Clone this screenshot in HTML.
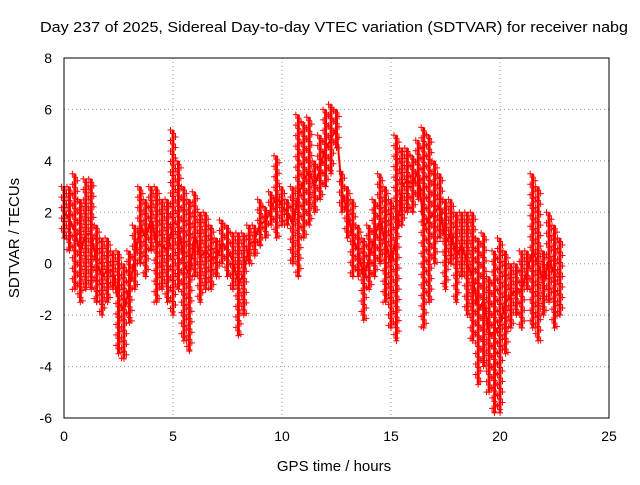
<!DOCTYPE html>
<html><head><meta charset="utf-8"><style>
body{margin:0;background:#fff}
svg text{font-family:"Liberation Sans",sans-serif;font-size:14px;fill:#000}
</style></head><body>
<svg id="c" width="640" height="480">
<text x="334" y="32" text-anchor="middle" textLength="588" lengthAdjust="spacingAndGlyphs" style="font-size:15px">Day 237 of 2025, Sidereal Day-to-day VTEC variation (SDTVAR) for receiver nabg</text>
<text x="334" y="471" text-anchor="middle" style="font-size:15px">GPS time / hours</text>
<text transform="translate(19,238) rotate(-90)" text-anchor="middle" style="font-size:15px">SDTVAR / TECUs</text>
<g id="grid"></g><g id="marks"></g>
<rect x="64" y="58" width="545" height="360" fill="none" stroke="#000"/>
</svg>
<script>
const xTicks=[0,5,10,15,20,25];
const yTicks=[-6,-4,-2,0,2,4,6,8];
const times=[0,0.25,0.5,0.75,1,1.25,1.5,1.75,2,2.25,2.5,2.75,3,3.25,3.5,3.75,4,4.25,4.5,4.75,5,5.25,5.5,5.75,6,6.25,6.5,6.75,7,7.25,7.5,7.75,8,8.25,8.5,8.75,9,9.25,9.5,9.75,10,10.25,10.5,10.75,11,11.25,11.5,11.75,12,12.25,12.5,12.75,13,13.25,13.5,13.75,14,14.25,14.5,14.75,15,15.25,15.5,15.75,16,16.25,16.5,16.75,17,17.25,17.5,17.75,18,18.25,18.5,18.75,19,19.25,19.5,19.75,20,20.25,20.5,20.75,21,21.25,21.5,21.75,22,22.25,22.5,22.75];
const lowVals=[1,0.5,-1,-1.5,-1,-1,-1.5,-2,-1.5,-1,-3.5,-3.7,-2.3,-1,0,-0.5,0.5,-1.5,-1,-1.5,-2,-1,-3,-3.4,-0.5,-1.5,-1,-1,-0.5,0,-0.5,-1,-2.8,-2,0,0.3,0.7,1,1.5,1,1.5,1.5,0,-0.5,1,1.5,2,2.5,3,3.5,4.5,2,1,-0.5,-0.5,-2.2,-1,-0.5,0,-1.5,-2.5,-3,1.5,2,2,2.5,-2.5,-1.5,0,1,-1,0,-1.5,-0.5,-2,-3,-4.7,-4,-5,-5.8,-5.8,-3.5,-2.5,-2,-2.5,-1,-2.5,-3,-2,-1.5,-2.5,-2];
const highVals=[3,3,3.5,2.5,3.3,3.3,1.5,1,1,0.5,0.5,0,0.5,1.5,3,2.5,3,3,2.5,2.5,5.2,4,3,2.5,2.8,2,2,1.5,1,1.7,1.5,1.2,1.2,1.2,1.5,1.5,2.5,2.2,2.8,4.2,3,2.5,3,5.8,5.5,5.7,4,5,6,6.2,6,3.6,3,2.5,1.5,1,1.5,2.5,3.5,3,2.5,5,4.5,4.5,4.2,4.8,5.3,5,4,3.5,2.5,2.5,2,2,2,2,1,1.2,-0.5,0.5,1,0.5,0,0,0.5,0.5,3.5,3,0.5,2,1.5,1];
const X=v=>64+v*545/25, Y=v=>418-(v+6)*360/14;
const ns="http://www.w3.org/2000/svg";
const g=document.getElementById('grid'), m=document.getElementById('marks');
function mk(p,tag,a){const e=document.createElementNS(ns,tag);for(const k in a)e.setAttribute(k,a[k]);p.appendChild(e);return e;}
xTicks.forEach(t=>{
 const l=mk(g,'line',{x1:X(t),x2:X(t),y1:58,y2:418,stroke:'#999','stroke-dasharray':'1,3'});
 
 
 const tx=mk(g,'text',{x:X(t),y:441,'text-anchor':'middle'});tx.textContent=t;
 
 
});
yTicks.forEach(t=>{
 const l=mk(g,'line',{x1:64,x2:609,y1:Y(t),y2:Y(t),stroke:'#999','stroke-dasharray':'1,3'});
 
 
 const tx=mk(g,'text',{x:52,y:Y(t)+5,'text-anchor':'end'});tx.textContent=t;
 
 
});
function plus(x,y){const p=mk(m,'path',{d:`M${x-3},${y}h6M${x},${y-3}v6`,stroke:'#f00','stroke-width':1});
 
 }
times.forEach((t,i)=>{
 const x=X(t), y0=Y(highVals[i]), y1=Y(lowVals[i]);
 const b=mk(m,'line',{x1:x,x2:x,y1:y0,y2:y1,stroke:'#f00','stroke-width':3});
 
 
 let k=0;
 for(let y=y0;y<=y1;y+=3.5){plus(x+((k%3)-1)*2.5,y);k++;}
 plus(x,y1);
 if(i<times.length-1){
  const c=mk(m,'line',{x1:x,x2:X(times[i+1]),y1:Y((lowVals[i]+highVals[i])/2),y2:Y((lowVals[i+1]+highVals[i+1])/2),stroke:'#f00','stroke-width':2});
  
  
 }
});
</script>
</body></html>
